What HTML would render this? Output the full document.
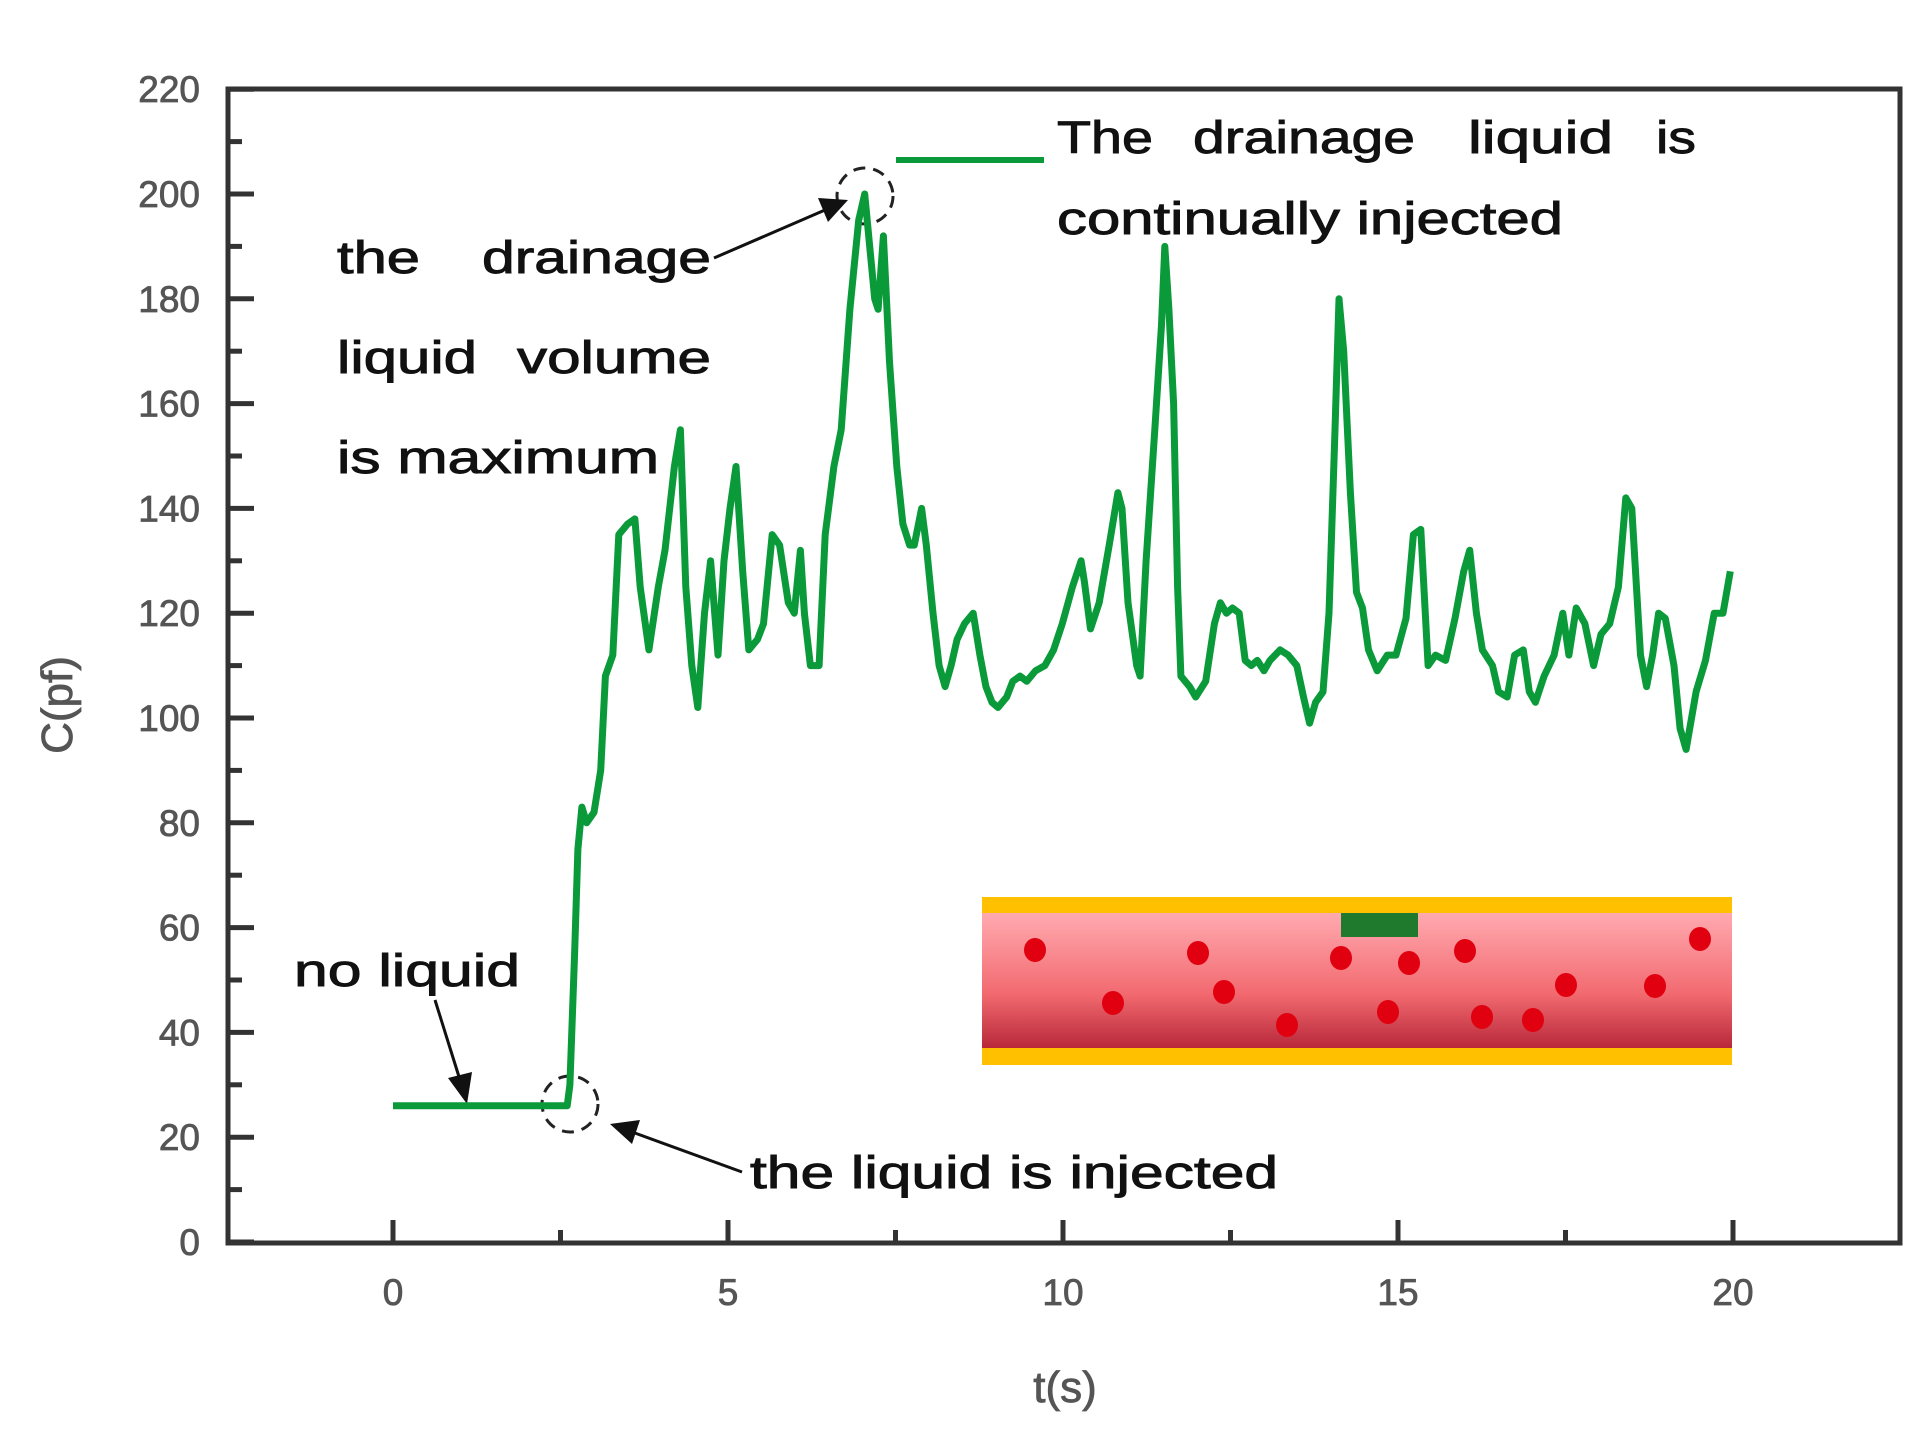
<!DOCTYPE html>
<html><head><meta charset="utf-8"><style>
html,body{margin:0;padding:0;background:#fff;}
svg{display:block;}
text{font-family:"Liberation Sans",sans-serif;}
.ann{font-size:45px;fill:#111;stroke:#111;stroke-width:0.9px;}
</style></head><body>
<svg id="chart" width="1928" height="1448" viewBox="0 0 1928 1448" xmlns="http://www.w3.org/2000/svg">
<g id="axes"></g>
<g id="inset">
  <defs>
    <linearGradient id="pinkg" x1="0" y1="0" x2="0" y2="1">
      <stop offset="0" stop-color="#ffaab0"/><stop offset="0.6" stop-color="#f26a70"/><stop offset="1" stop-color="#b8283a"/>
    </linearGradient>
  </defs>
  <rect x="982" y="897" width="750" height="17" fill="#ffc000"/>
  <rect x="982" y="913" width="750" height="135" fill="url(#pinkg)"/>
  <rect x="982" y="1048" width="750" height="17" fill="#ffc000"/>
  <rect x="1341" y="913" width="77" height="24" fill="#1f7a2e"/>
  <g id="dots" fill="#e00010"></g>
</g>
<g id="annotations">
  <line x1="896" y1="160" x2="1044" y2="160" stroke="#0a9a3a" stroke-width="6"/>
  <g>
    <text class="ann" x="1057" y="153" textLength="96" lengthAdjust="spacingAndGlyphs">The</text>
    <text class="ann" x="1193" y="153" textLength="222" lengthAdjust="spacingAndGlyphs">drainage</text>
    <text class="ann" x="1468" y="153" textLength="145" lengthAdjust="spacingAndGlyphs">liquid</text>
    <text class="ann" x="1656" y="153" textLength="40" lengthAdjust="spacingAndGlyphs">is</text>
  </g>
  <text class="ann" x="1057" y="234" textLength="506" lengthAdjust="spacingAndGlyphs">continually injected</text>
  <g>
    <text class="ann" x="337" y="273" textLength="83" lengthAdjust="spacingAndGlyphs">the</text>
    <text class="ann" x="482" y="273" textLength="229" lengthAdjust="spacingAndGlyphs">drainage</text>
  </g>
  <g>
    <text class="ann" x="337" y="373" textLength="140" lengthAdjust="spacingAndGlyphs">liquid</text>
    <text class="ann" x="517" y="373" textLength="194" lengthAdjust="spacingAndGlyphs">volume</text>
  </g>
  <text class="ann" x="337" y="473" textLength="322" lengthAdjust="spacingAndGlyphs">is maximum</text>
  <text class="ann" x="294" y="986" textLength="226" lengthAdjust="spacingAndGlyphs">no liquid</text>
  <text class="ann" x="750" y="1188" textLength="528" lengthAdjust="spacingAndGlyphs">the liquid is injected</text>
  <circle cx="865" cy="196" r="28" fill="none" stroke="#222" stroke-width="3" stroke-dasharray="12 8"/>
  <circle cx="570" cy="1104" r="28" fill="none" stroke="#222" stroke-width="3" stroke-dasharray="12 8"/>
  <line x1="714" y1="258" x2="825" y2="210" stroke="#111" stroke-width="3"/>
  <polygon points="848,200 818,198 828,222" fill="#111"/>
  <line x1="435" y1="1000" x2="460" y2="1080" stroke="#111" stroke-width="3"/>
  <polygon points="467,1104 448,1078 472,1072" fill="#111"/>
  <line x1="742" y1="1172" x2="632" y2="1132" stroke="#111" stroke-width="3"/>
  <polygon points="610,1124 640,1120 632,1144" fill="#111"/>
</g>
<g id="series"></g>
</svg>
<script>
const tValues = [0,2.6,2.64,2.71,2.76,2.82,2.89,3.00,3.10,3.17,3.28,3.37,3.50,3.61,3.69,3.82,3.96,4.06,4.20,4.29,4.37,4.46,4.55,4.65,4.74,4.85,4.94,5.03,5.12,5.22,5.31,5.44,5.53,5.66,5.77,5.90,5.99,6.08,6.14,6.23,6.36,6.45,6.58,6.69,6.82,6.95,7.04,7.13,7.19,7.24,7.32,7.41,7.52,7.61,7.71,7.78,7.89,7.96,8.06,8.15,8.24,8.33,8.42,8.53,8.66,8.76,8.85,8.94,9.03,9.16,9.25,9.36,9.46,9.59,9.73,9.86,9.99,10.14,10.27,10.32,10.41,10.54,10.69,10.82,10.88,10.97,11.10,11.15,11.24,11.37,11.47,11.52,11.58,11.65,11.71,11.76,11.89,11.98,12.13,12.26,12.35,12.44,12.53,12.63,12.72,12.81,12.90,13.00,13.09,13.24,13.36,13.49,13.59,13.68,13.77,13.88,13.97,14.06,14.12,14.19,14.29,14.38,14.47,14.56,14.69,14.84,14.97,15.12,15.23,15.34,15.45,15.56,15.71,15.85,15.98,16.07,16.17,16.26,16.41,16.50,16.63,16.74,16.87,16.96,17.05,17.18,17.33,17.46,17.55,17.66,17.79,17.92,18.03,18.16,18.29,18.40,18.49,18.62,18.71,18.80,18.89,18.99,19.12,19.21,19.30,19.45,19.59,19.72,19.85,19.96];
const cValues = [26,26,30,55,75,83,80,82,90,108,112,135,137,138,125,113,125,132,148,155,125,110,102,120,130,112,130,140,148,128,113,115,118,135,133,122,120,132,120,110,110,135,148,155,178,195,200,188,180,178,192,168,148,137,133,133,140,133,120,110,106,110,115,118,120,112,106,103,102,104,107,108,107,109,110,113,118,125,130,126,117,122,133,143,140,122,110,108,130,155,175,190,178,160,125,108,106,104,107,118,122,120,121,120,111,110,111,109,111,113,112,110,104,99,103,105,120,155,180,170,143,124,121,113,109,112,112,119,135,136,110,112,111,119,128,132,120,113,110,105,104,112,113,105,103,108,112,120,112,121,118,110,116,118,125,142,140,112,106,112,120,119,110,98,94,105,111,120,120,128];
const yTicks = [0,20,40,60,80,100,120,140,160,180,200,220];
const xTicks = [0,5,10,15,20];
const dotX = [1035,1113,1198,1224,1287,1341,1388,1409,1465,1482,1533,1566,1655,1700];
const dotY = [950,1003,953,992,1025,958,1012,963,951,1017,1020,985,986,939];

const X0=393, XS=67, Y0=1242, YS=5.24;
function xs(t){return X0+XS*t;}
function ys(v){return Y0-YS*v;}
const NS="http://www.w3.org/2000/svg";
function mk(tag,attrs,parent){const e=document.createElementNS(NS,tag);for(const k in attrs)e.setAttribute(k,attrs[k]);parent.appendChild(e);return e;}

const axes=document.getElementById('axes');
const frame=mk('rect',{x:228,y:89,width:1672,height:1154,fill:'none',stroke:'#333','stroke-width':5},axes);


for(let v=0; v<=220; v+=10){
  const major = v%20===0;
  const tk=mk('line',{x1:228,x2:228+(major?26:14),y1:ys(v),y2:ys(v),stroke:'#333','stroke-width':5},axes);
  
  
}
yTicks.forEach(v=>{
  const t=mk('text',{x:200,y:ys(v)+13,'text-anchor':'end','font-size':37,fill:'#555',stroke:'#555','stroke-width':0.8},axes);
  t.textContent=v;
  
  
});
for(let v=0; v<=20; v+=2.5){
  const major = v%5===0;
  const tk=mk('line',{x1:xs(v),x2:xs(v),y1:1242,y2:1242-(major?22:12),stroke:'#333','stroke-width':5},axes);
  
  
}
xTicks.forEach(v=>{
  const t=mk('text',{x:xs(v),y:1305,'text-anchor':'middle','font-size':37,fill:'#555',stroke:'#555','stroke-width':0.8},axes);
  t.textContent=v;
  
  
});
const xt=mk('text',{x:1065,y:1402,'text-anchor':'middle','font-size':44,fill:'#555',stroke:'#555','stroke-width':0.8},axes);
xt.textContent='t(s)';


const yt=mk('text',{x:0,y:0,'text-anchor':'middle','font-size':44,fill:'#555',stroke:'#555','stroke-width':0.8,transform:'translate(72,705) rotate(-90)'},axes);
yt.textContent='C(pf)';



const dots=document.getElementById('dots');
dotX.forEach((x,i)=>{
  const d=mk('ellipse',{cx:x,cy:dotY[i],rx:11,ry:12},dots);
  
  
});

const series=document.getElementById('series');
const pts=tValues.map((t,i)=>xs(t).toFixed(1)+','+ys(cValues[i]).toFixed(1)).join(' ');
const line=mk('polyline',{points:pts,fill:'none',stroke:'#0a9a3a','stroke-width':7,'stroke-linejoin':'round'},series);


</script>
</body></html>
